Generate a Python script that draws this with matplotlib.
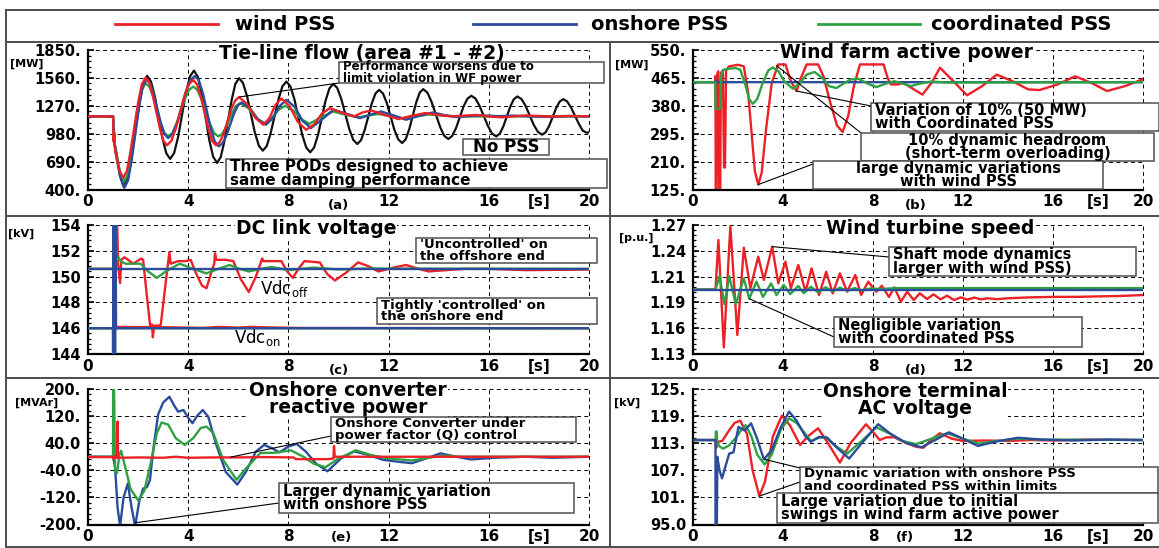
import numpy as np
import matplotlib
matplotlib.use("Agg")
import matplotlib.pyplot as plt
from matplotlib.lines import Line2D
from matplotlib.patches import Rectangle, ConnectionPatch
from matplotlib.ticker import AutoMinorLocator

plt.rcParams['font.family'] = ['DejaVu Sans']
plt.rcParams['font.weight'] = 'bold'
plt.rcParams['mathtext.default'] = 'regular'

# ---------------------------------------------------------------- data
series_names = ['wind PSS', 'onshore PSS', 'coordinated PSS']
x_ticks = [0, 4, 8, 12, 16, 20]
x_tick_labels = ['0', '4', '8', '12', '16', '20']

# (a) tie-line flow [MW]
tie_limits = (400, 1850)
tie_tick_labels = ['400.', '690.', '980.', '1270.', '1560.', '1850.']
tie_nopss = [(0, 1160), (1.0, 1160), (1.05, 900), (1.15, 760), (1.28, 540), (1.42, 430),
             (1.577, 507), (1.73, 718), (2.05, 1293), (2.203, 1504), (2.36, 1581),
             (2.513, 1523), (2.67, 1365), (2.97, 934), (3.127, 776), (3.28, 718),
             (3.438, 779), (3.60, 948), (3.91, 1407), (4.072, 1575), (4.23, 1636),
             (4.383, 1572), (4.54, 1396), (4.84, 916), (4.997, 740), (5.15, 676),
             (5.297, 735), (5.44, 896), (5.74, 1337), (5.883, 1498), (6.03, 1557),
             (6.188, 1507), (6.35, 1369), (6.66, 992), (6.822, 854), (6.98, 804),
             (7.137, 852), (7.29, 984), (7.61, 1343), (7.763, 1474), (7.92, 1522),
             (8.078, 1473), (8.24, 1338), (8.55, 971), (8.712, 836), (8.87, 787),
             (9.023, 835), (9.18, 965), (9.48, 1320), (9.637, 1450), (9.79, 1498),
             (9.95, 1456), (10.11, 1342), (10.43, 1029), (10.59, 915), (10.75, 873),
             (10.895, 911), (11.04, 1014), (11.33, 1295), (11.475, 1398), (11.62, 1436),
             (11.773, 1399), (11.93, 1298), (12.23, 1021), (12.387, 920), (12.54, 883),
             (12.68, 921), (12.82, 1023), (13.10, 1303), (13.24, 1406), (13.38, 1443),
             (13.547, 1408), (13.71, 1314), (14.05, 1055), (14.213, 960), (14.38, 925),
             (14.533, 955), (14.69, 1037), (14.99, 1262), (15.147, 1344), (15.30, 1374),
             (15.467, 1346), (15.63, 1269), (15.97, 1058), (16.133, 980), (16.30, 952),
             (16.44, 980), (16.58, 1056), (16.86, 1263), (17.0, 1339), (17.14, 1367),
             (17.305, 1340), (17.47, 1268), (17.80, 1069), (17.965, 997), (18.13, 970),
             (18.27, 995), (18.41, 1062), (18.69, 1247), (18.83, 1314), (18.97, 1339),
             (19.125, 1316), (19.28, 1254), (19.59, 1085), (19.745, 1013), (19.90, 990),
             (20.0, 995)]
tie_wind = [(0, 1160), (1.0, 1160), (1.02, 900), (1.05, 990), (1.08, 820), (1.12, 760), (1.25, 600),
            (1.40, 521), (1.55, 591), (1.69, 782), (2.00, 1303), (2.15, 1493), (2.30, 1563),
            (2.442, 1516), (2.58, 1387), (2.87, 1035), (3.008, 906), (3.15, 859), (3.325, 905),
            (3.50, 1029), (3.85, 1369), (4.025, 1493), (4.20, 1539), (4.352, 1493), (4.50, 1369),
            (4.81, 1029), (4.958, 905), (5.11, 859), (5.263, 893), (5.42, 984), (5.72, 1235),
            (5.877, 1326), (6.03, 1360), (6.35, 1288), (6.68, 1145),
            (7.00, 1073), (7.24, 1141), (7.48, 1278), (7.72, 1346), (8.05, 1265), (8.38, 1102),
            (8.71, 1021), (9.03, 1077), (9.34, 1190), (9.66, 1246), (10.15, 1195), (10.63, 1160),
            (10.95, 1200), (11.30, 1222), (11.85, 1175), (12.39, 1132), (12.90, 1165), (13.46, 1194),
            (14.0, 1175), (14.5, 1160), (15.0, 1168), (15.5, 1175), (16.0, 1160), (16.5, 1150),
            (17.0, 1160), (17.5, 1170), (18.5, 1158), (19.2, 1165), (20.0, 1160)]
tie_onshore = [(0, 1160), (1.0, 1160), (1.05, 880), (1.12, 760), (1.28, 540), (1.45, 417),
               (1.597, 493), (1.74, 699), (2.04, 1263), (2.183, 1469), (2.33, 1545), (2.475, 1504),
               (2.62, 1393), (2.91, 1088), (3.055, 976), (3.20, 935), (3.378, 978),
               (3.56, 1097), (3.91, 1420), (4.092, 1538), (4.27, 1581), (4.428, 1532), (4.59, 1398),
               (4.90, 1032), (5.062, 898), (5.22, 849), (5.373, 880),
               (5.53, 963), (5.83, 1191), (5.987, 1274), (6.14, 1305), (6.46, 1247), (6.78, 1131),
               (7.10, 1073), (7.37, 1138), (7.65, 1267), (7.92, 1332), (8.25, 1259), (8.57, 1112),
               (8.90, 1039), (9.35, 1130), (9.79, 1229), (10.3, 1190), (10.86, 1142), (11.3, 1180),
               (11.70, 1211), (12.2, 1170), (12.70, 1125), (13.2, 1165), (13.77, 1201), (14.2, 1175),
               (14.70, 1153), (15.2, 1162), (15.7, 1170), (16.4, 1162), (17.0, 1168), (17.8, 1158),
               (18.5, 1155), (19.2, 1162), (20.0, 1160)]
tie_coord = [(0, 1160), (1.0, 1160), (1.05, 880), (1.12, 780), (1.28, 580), (1.42, 476),
             (1.567, 545), (1.71, 733), (2.01, 1248), (2.153, 1436), (2.30, 1505), (2.45, 1468),
             (2.60, 1367), (2.90, 1090), (3.05, 989), (3.20, 952), (3.367, 987),
             (3.53, 1082), (3.87, 1341), (4.033, 1435), (4.20, 1470), (4.367, 1435), (4.53, 1341),
             (4.87, 1082), (5.033, 987), (5.20, 952), (5.347, 975),
             (5.49, 1039), (5.79, 1212), (5.933, 1275), (6.08, 1298), (6.40, 1246), (6.71, 1142),
             (7.03, 1090), (7.31, 1135), (7.59, 1225), (7.87, 1270), (8.20, 1220), (8.52, 1130),
             (8.84, 1083), (9.3, 1150), (9.79, 1211), (10.3, 1175), (10.8, 1150), (11.2, 1170),
             (11.6, 1185), (12.1, 1160), (12.6, 1140), (13.1, 1160), (13.6, 1180), (14.3, 1165),
             (15.0, 1160), (20.0, 1160)]

# (b) wind farm active power [MW]
wf_limits = (125, 550)
wf_tick_labels = ['125.', '210.', '295.', '380.', '465.', '550.']
wf_wind = [(0, 452), (0.99, 452), (1.0, 470), (1.01, 110), (1.05, 110), (1.07, 475), (1.12, 485),
           (1.17, 110), (1.21, 110), (1.24, 480), (1.33, 488), (1.38, 192), (1.42, 192), (1.47, 488),
           (1.6, 500), (2.0, 505), (2.26, 500), (2.45, 420), (2.6, 300), (2.75, 180), (2.9, 140),
           (3.05, 175), (3.25, 310), (3.5, 450), (3.79, 506), (4.11, 506), (4.35, 455), (4.6, 425),
           (4.8, 465), (5.05, 506), (5.56, 506), (5.8, 470), (6.1, 390), (6.4, 320), (6.65, 300),
           (6.9, 350), (7.15, 440), (7.42, 506), (8.47, 506), (8.65, 465), (8.8, 445), (9.1, 445),
           (9.35, 450), (9.7, 435), (10.2, 414), (10.6, 450), (10.98, 496), (11.5, 460), (12.18, 412),
           (12.85, 440), (13.5, 475), (14.2, 455), (14.9, 430), (15.4, 428), (16.2, 445), (16.98, 470),
           (17.7, 450), (18.4, 425), (19.2, 440), (20.0, 461)]
wf_onshore = [(0, 452), (1.0, 452), (1.03, 458), (1.08, 452), (20.0, 452)]
wf_coord = [(0, 452), (0.99, 452), (1.0, 371), (1.2, 371), (1.26, 475), (1.35, 490), (1.6, 493),
            (1.9, 495), (2.1, 490), (2.3, 450), (2.5, 400), (2.66, 386), (2.85, 400), (3.1, 450),
            (3.35, 488), (3.55, 497), (3.8, 485), (4.05, 455), (4.44, 432), (4.75, 450), (5.05, 475),
            (5.4, 483), (5.75, 465), (6.05, 440), (6.37, 434), (6.7, 448), (7.0, 460), (7.34, 463),
            (7.75, 448), (8.15, 437), (8.55, 447), (8.95, 455), (9.3, 448), (9.68, 440), (10.1, 448),
            (10.6, 454), (11.2, 451), (20.0, 452)]

# (c) DC link voltage [kV]
dc_limits = (144, 154)
dc_tick_labels = ['144', '146', '148', '150', '152', '154']
dc_off_wind = [(0, 150.6), (1.0, 150.6), (1.08, 154.5), (1.12, 151.5), (1.16, 154.5), (1.2, 151.0),
               (1.28, 149.5), (1.33, 151.3), (1.45, 151.5), (1.6, 151.3), (1.8, 151.0), (2.13, 151.4),
               (2.2, 151.3), (2.35, 148.5), (2.48, 146.2), (2.55, 146.3), (2.59, 145.3), (2.64, 146.2),
               (2.9, 146.2), (3.1, 149.5), (3.25, 151.9), (3.3, 151.0), (3.6, 151.2), (3.9, 151.2),
               (4.1, 151.3), (4.3, 150.3), (4.55, 149.3), (4.73, 149.1), (4.95, 150.5), (5.04, 151.0),
               (5.07, 151.8), (5.12, 151.3), (5.5, 151.3), (5.8, 151.2), (6.1, 149.8), (6.42, 148.8),
               (6.7, 150.0), (6.9, 151.1), (6.95, 151.4), (7.0, 151.2), (7.72, 151.2), (7.95, 150.4),
               (8.18, 149.9), (8.4, 150.6), (8.64, 151.2), (9.25, 151.1), (9.55, 150.2), (9.86, 149.7),
               (10.3, 150.3), (10.78, 151.1), (11.2, 150.8), (11.6, 150.4), (12.2, 150.7), (12.7, 150.9),
               (13.2, 150.6), (13.6, 150.4), (14.3, 150.5), (15.0, 150.6), (16.0, 150.6), (17.5, 150.5),
               (20.0, 150.55)]
dc_on_wind = [(0, 146.0), (1.0, 146.0), (1.03, 143.5), (1.06, 146.1), (3.3, 146.07), (4.6, 146.02),
              (5.2, 146.1), (6.0, 146.05), (6.5, 146.1), (7.5, 146.05), (8.5, 146.02), (20.0, 146.0)]
dc_off_onshore = [(0, 150.6), (20.0, 150.6)]
dc_on_onshore = [(0, 146.0), (1.0, 146.0), (1.0, 143.5), (1.02, 154.5), (1.04, 143.5), (1.06, 154.5),
                 (1.08, 143.5), (1.1, 154.5), (1.12, 146.0), (20.0, 146.0)]
dc_off_coord = [(0, 150.6), (1.0, 150.6), (1.1, 151.0), (1.22, 151.5), (1.3, 151.2), (1.5, 151.0),
                (2.1, 151.0), (2.4, 150.4), (2.75, 149.9), (3.1, 150.4), (3.66, 151.0), (4.2, 150.6),
                (4.73, 150.25), (5.2, 150.6), (5.65, 150.9), (6.05, 150.6), (6.42, 150.4), (6.9, 150.6),
                (7.33, 150.75), (8.0, 150.5), (9.0, 150.7), (10.0, 150.55), (11.0, 150.62), (20.0, 150.6)]
dc_on_coord = [(0, 146.0), (1.0, 146.0), (1.01, 144.3), (1.03, 146.0), (20.0, 146.0)]

# (d) wind turbine speed [p.u.]
ws_limits = (1.13, 1.27)
ws_tick_labels = ['1.13', '1.16', '1.19', '1.21', '1.24', '1.27']
ws_wind = [(0, 1.2), (1.0, 1.2), (1.13, 1.2537), (1.37, 1.1372), (1.66, 1.269), (1.97, 1.1506),
           (2.26, 1.2454), (2.55, 1.2013), (2.9, 1.2356), (3.15, 1.2103), (3.52, 1.2465), (3.79, 1.2067),
           (4.11, 1.2302), (4.35, 1.2013), (4.68, 1.2266), (5.0, 1.1976), (5.27, 1.223), (5.6, 1.194),
           (5.92, 1.2193), (6.21, 1.1958), (6.53, 1.2175), (6.85, 1.1976), (7.21, 1.2157), (7.47, 1.194),
           (7.79, 1.2085), (8.15, 1.1976), (8.39, 1.204), (8.71, 1.192), (8.95, 1.2023), (9.24, 1.1868),
           (9.52, 1.1976), (9.81, 1.1886), (10.08, 1.1958), (10.4, 1.1897), (10.69, 1.1947),
           (11.0, 1.1893), (11.29, 1.1933), (11.6, 1.1886), (11.9, 1.1915), (12.2, 1.189),
           (12.5, 1.1912), (12.8, 1.1893), (13.1, 1.1905), (13.5, 1.1895), (14.0, 1.1905),
           (15.0, 1.1915), (16.0, 1.192), (17.0, 1.192), (18.0, 1.1925), (19.0, 1.193), (20.0, 1.194)]
ws_onshore = [(0, 1.2), (20.0, 1.2)]
ws_coord = [(0, 1.2), (1.0, 1.2), (1.18, 1.2146), (1.4, 1.184), (1.61, 1.2146), (1.9, 1.184),
            (2.26, 1.212), (2.5, 1.19), (2.82, 1.2085), (3.11, 1.192), (3.47, 1.2067), (3.71, 1.194),
            (4.03, 1.205), (4.32, 1.195), (4.68, 1.2038), (4.92, 1.196), (5.24, 1.203), (5.56, 1.197),
            (5.89, 1.2025), (6.2, 1.198), (6.53, 1.202), (6.85, 1.1985), (7.18, 1.2015), (7.5, 1.199),
            (7.9, 1.2012), (8.3, 1.2005), (9.0, 1.2015), (20.0, 1.2015)]

# (e) onshore converter reactive power [MVAr]
q_limits = (-200, 200)
q_tick_labels = ['-200.', '-120.', '-40.0', '40.0', '120.', '200.']
q_wind = [(0, -1), (1.0, -1), (1.02, -6), (1.05, 3), (1.1, -3), (1.16, -2), (1.18, 104), (1.2, -3),
          (2.0, -2), (3.0, -3), (3.5, 0), (4.0, -3), (5.0, -2), (6.0, -2), (7.0, -1), (8.2, -2),
          (8.3, -7), (9.6, -7), (9.8, -5), (9.82, 32), (9.85, 0), (11.0, 0), (20.0, 0)]
q_onshore = [(0, 0), (1.0, 0), (1.08, -30), (1.18, -150), (1.28, -205), (1.42, -120), (1.59, -79),
             (1.74, -150), (1.88, -205), (2.05, -130), (2.2, -94), (2.35, -90), (2.47, -70), (2.62, 30),
             (2.8, 125), (3.0, 160), (3.25, 177), (3.45, 150), (3.6, 133), (3.81, 138), (4.0, 115),
             (4.17, 99), (4.35, 120), (4.58, 138), (4.8, 118), (5.1, 40), (5.5, -45), (5.96, -82),
             (6.3, -45), (6.7, 15), (7.03, 35), (7.35, 25), (7.64, 13), (8.0, 30), (8.33, 38),
             (8.7, 15), (9.1, -20), (9.56, -43), (10.1, -5), (10.63, 16), (11.2, 5), (11.78, -9),
             (12.4, -15), (12.93, -19), (13.5, -5), (14.07, 10), (14.7, 0), (15.3, -8), (16.2, -3),
             (17.5, 0), (18.5, -3), (20.0, 0)]
q_coord = [(0, 0), (1.0, 0), (1.005, 205), (1.04, 205), (1.08, -40), (1.16, -48), (1.25, 5),
           (1.32, 18), (1.45, -20), (1.7, -95), (2.0, -129), (2.25, -100), (2.5, -20), (2.75, 70),
           (2.94, 101), (3.2, 95), (3.5, 55), (3.86, 35), (4.2, 55), (4.5, 85), (4.73, 89), (5.0, 70),
           (5.4, -10), (5.93, -68), (6.3, -35), (6.88, 11), (7.5, 12), (8.1, 19), (8.6, 0), (9.0, -20),
           (9.48, -31), (10.0, -5), (10.7, 19), (11.3, 5), (12.0, -5), (12.93, -11), (13.6, -3),
           (14.2, 3), (15.0, 0), (20.0, 0)]

# (f) onshore terminal AC voltage [kV]
vac_limits = (95, 125)
vac_tick_labels = ['95.0', '101.', '107.', '113.', '119.', '125.']
vac_wind = [(0, 113.7), (1.0, 113.7), (1.03, 112.0), (1.1, 113.3), (1.3, 113.5), (1.6, 115.8),
            (1.85, 117.5), (2.1, 118.0), (2.4, 115.0), (2.65, 107.0), (2.95, 101.3), (3.2, 104.5),
            (3.55, 114.5), (3.95, 119.1), (4.3, 117.0), (4.76, 112.6), (5.1, 114.5), (5.56, 116.3),
            (6.0, 113.0), (6.53, 108.7), (7.0, 113.0), (7.69, 117.2), (8.0, 115.5), (8.3, 113.7),
            (8.6, 114.3), (8.95, 114.3), (9.4, 113.2), (9.92, 112.2), (10.24, 112.0), (10.6, 113.8),
            (10.97, 115.2), (11.5, 114.0), (12.0, 113.5), (13.0, 113.6), (14.0, 113.5), (15.0, 113.7),
            (16.0, 113.6), (17.5, 113.8), (20.0, 113.7)]
vac_onshore = [(0, 113.7), (1.0, 113.7), (1.0, 94.0), (1.06, 94.0), (1.08, 110.0), (1.18, 107.0),
               (1.29, 105.2), (1.45, 108.0), (1.61, 110.7), (1.8, 111.0), (2.02, 116.6), (2.3, 115.8),
               (2.58, 117.4), (2.85, 114.0), (3.15, 109.4), (3.5, 111.5), (3.9, 116.5), (4.27, 120.0),
               (4.6, 118.0), (5.0, 114.5), (5.24, 113.3), (5.6, 114.4), (5.97, 114.2), (6.4, 112.0),
               (6.94, 109.6), (7.5, 113.0), (8.23, 117.2), (8.8, 115.0), (9.5, 113.0), (10.16, 112.1),
               (10.8, 113.8), (11.37, 115.4), (12.0, 114.0), (12.66, 112.4), (13.5, 113.4),
               (14.44, 114.2), (15.5, 113.8), (17.0, 113.6), (18.5, 113.8), (20.0, 113.7)]
vac_coord = [(0, 113.7), (1.0, 113.7), (1.02, 115.6), (1.05, 115.6), (1.08, 113.0), (1.2, 112.2),
             (1.34, 111.8), (1.6, 112.5), (1.94, 114.4), (2.15, 116.0), (2.34, 117.0), (2.6, 114.5),
             (2.85, 110.5), (3.18, 108.3), (3.5, 110.5), (3.9, 116.0), (4.27, 118.5), (4.6, 117.5),
             (5.0, 115.0), (5.24, 113.5), (5.6, 114.2), (5.89, 114.4), (6.3, 112.5), (6.85, 110.7),
             (7.5, 113.5), (8.15, 116.5), (8.8, 115.0), (9.3, 113.5), (9.92, 112.8), (10.6, 114.0),
             (11.29, 115.2), (12.0, 114.0), (12.7, 112.9), (13.5, 113.5), (14.4, 114.0),
             (15.5, 113.8), (20.0, 113.7)]

# ---------------------------------------------------------------- drawing
RED, BLUE, GREEN, BLACK = '#ec2027', '#2b4c9b', '#2ea243', '#111111'
FRAME = '#4d4d4d'
W, H = 1159, 548
fig = plt.figure(figsize=(W / 100, H / 100), dpi=100)


def fx(x):
    return x / W


def fy(y):
    return 1 - y / H


def px_axes(l, t, r, b):
    return fig.add_axes([fx(l), fy(b), (r - l) / W, (b - t) / H])


def curve(ax, pairs, color, z, lw=1.7):
    arr = np.asarray(pairs, dtype=float)
    ax.plot(arr[:, 0], arr[:, 1], color=color, lw=lw, zorder=z, solid_joinstyle='round')


def style_axes(ax, limits, labels, letter, letter_t, letter_off=-7):
    lo, hi = limits
    ax.set_xlim(0, 20)
    ax.set_ylim(lo, hi)
    ax.set_xticks(x_ticks)
    ax.set_xticklabels(x_tick_labels)
    ax.set_yticks(np.linspace(lo, hi, 6))
    ax.set_yticklabels(labels)
    ax.yaxis.set_minor_locator(AutoMinorLocator(5))
    ax.tick_params(axis='x', which='both', length=0, pad=3.5, labelsize=11)
    ax.tick_params(axis='y', which='major', direction='in', length=4, width=1.2, pad=5, labelsize=10.5)
    ax.tick_params(axis='y', which='minor', direction='in', length=2.5, width=0.9)
    for side in ('top', 'right'):
        ax.spines[side].set_visible(False)
    for side in ('left', 'bottom'):
        ax.spines[side].set_linewidth(1.6)
    ax.grid(True, which='major', color='black', lw=0.7, ls=(0, (4, 3.5)))
    for gl in ax.get_xgridlines() + ax.get_ygridlines():
        gl.set_clip_on(False)
    ax.set_axisbelow(True)
    ax.annotate('[s]', xy=(18, 0), xycoords=('data', 'axes fraction'), xytext=(0, -3.5),
                textcoords='offset points', ha='center', va='top', fontsize=11)
    ax.annotate(letter, xy=(letter_t, 0), xycoords=('data', 'axes fraction'), xytext=(0, letter_off),
                textcoords='offset points', ha='center', va='top', fontsize=9.5)


def title(x, y, text):
    fig.text(fx(x), fy(y), text, ha='center', va='center', fontsize=13.5, linespacing=0.85,
             zorder=3, bbox=dict(fc='white', ec='none', pad=0.5))


def unit(x, y, text):
    fig.text(fx(x), fy(y), text, ha='left', va='center', fontsize=8)


def note_box(l, t, r, b, text, size, ha='left'):
    fig.add_artist(Rectangle((fx(l), fy(b)), (r - l) / W, (b - t) / H, transform=fig.transFigure,
                             facecolor='white', edgecolor='#505050', lw=1.1, zorder=5))
    x = fx(l + 4) if ha == 'left' else fx((l + r) / 2)
    fig.text(x, fy((t + b) / 2), text, ha=ha, va='center', multialignment=ha, fontsize=size,
             linespacing=0.9, zorder=6)


def leader(ax, xy, x, y):
    fig.add_artist(ConnectionPatch(xyA=xy, coordsA=ax.transData, xyB=(fx(x), fy(y)),
                                   coordsB=fig.transFigure, color='black', lw=0.8, zorder=4))


def frame_line(x0, y0, x1, y1):
    fig.add_artist(Line2D([fx(x0), fx(x1)], [fy(y0), fy(y1)], transform=fig.transFigure,
                          color=FRAME, lw=1.4))


# outer frame and panel separators
frame_line(6, 10, 1159, 10)
frame_line(6, 42, 1159, 42)
frame_line(6, 10, 6, 548)
frame_line(6, 216, 1159, 216)
frame_line(6, 378, 1159, 378)
frame_line(610, 42, 610, 548)
frame_line(6, 547, 1159, 547)

# legend row
for color, x0, x1, xt, name in [(RED, 115, 218, 235, series_names[0]),
                                (BLUE, 473, 576, 591, series_names[1]),
                                (GREEN, 818, 920, 931, series_names[2])]:
    fig.add_artist(Line2D([fx(x0), fx(x1)], [fy(24), fy(24)], transform=fig.transFigure,
                          color=color, lw=2.0))
    fig.text(fx(xt), fy(25), name, ha='left', va='center', fontsize=14)

ax_a = px_axes(88, 50, 589, 189.5)
ax_b = px_axes(693, 50, 1143, 189.5)
ax_c = px_axes(88, 225, 589, 354)
ax_d = px_axes(693, 225, 1143, 354)
ax_e = px_axes(88, 389, 589, 524.5)
ax_f = px_axes(693, 389, 1143, 524.5)

# (a)
style_axes(ax_a, tie_limits, tie_tick_labels, '(a)', 10.0)
curve(ax_a, tie_nopss, BLACK, 1, lw=1.6)
curve(ax_a, tie_coord, GREEN, 2)
curve(ax_a, tie_onshore, BLUE, 3)
curve(ax_a, tie_wind, RED, 4)
title(362, 53, 'Tie-line flow (area #1 - #2)')
unit(10, 64, '[MW]')
note_box(339, 62, 604, 83, 'Performance worsens due to\nlimit violation in WF power', 8.5)
leader(ax_a, (6.05, 1362), 339, 83)
note_box(463, 139, 549, 155, 'No PSS', 12, ha='center')
note_box(226, 159, 607, 188, 'Three PODs designed to achieve\nsame damping performance', 11)

# (b)
style_axes(ax_b, wf_limits, wf_tick_labels, '(b)', 9.9)
curve(ax_b, wf_wind, RED, 2)
curve(ax_b, wf_onshore, BLUE, 3)
curve(ax_b, wf_coord, GREEN, 4)
title(907, 53, 'Wind farm active power')
unit(615, 65, '[MW]')
note_box(871, 103, 1159, 131, 'Variation of 10% (50 MW)\nwith Coordinated PSS', 10.5)
leader(ax_b, (4.6, 425), 871, 106)
note_box(861, 133, 1154, 161, '10% dynamic headroom\n(short-term overloading)', 10.5, ha='center')
leader(ax_b, (3.7, 503), 861, 133)
note_box(813, 161, 1103, 189, 'large dynamic variations\nwith wind PSS', 10.5, ha='center')
leader(ax_b, (2.9, 140), 813, 164)

# (c)
style_axes(ax_c, dc_limits, dc_tick_labels, '(c)', 10.0)
curve(ax_c, dc_on_wind, RED, 2)
curve(ax_c, dc_off_wind, RED, 2)
curve(ax_c, dc_on_coord, GREEN, 3)
curve(ax_c, dc_off_coord, GREEN, 3)
curve(ax_c, dc_off_onshore, BLUE, 4)
curve(ax_c, dc_on_onshore, BLUE, 4)
title(316, 229, 'DC link voltage')
unit(8, 234, '[kV]')
ax_c.text(6.85, 149.1, r'Vdc$_{\mathregular{off}}$', fontsize=12, fontweight='normal',
          ha='left', va='center', zorder=6)
ax_c.text(5.83, 145.3, r'Vdc$_{\mathregular{on}}$', fontsize=12, fontweight='normal',
          ha='left', va='center', zorder=6)
note_box(416, 238, 597, 263, "'Uncontrolled' on\nthe offshore end", 9.5)
note_box(377, 298, 597, 324, "Tightly 'controlled' on\nthe onshore end", 9.5)

# (d)
style_axes(ax_d, ws_limits, ws_tick_labels, '(d)', 9.9)
curve(ax_d, ws_wind, RED, 2)
curve(ax_d, ws_coord, GREEN, 3)
curve(ax_d, ws_onshore, BLUE, 4)
title(930, 229, 'Wind turbine speed')
unit(619, 238, '[p.u.]')
note_box(889, 247, 1136, 276, 'Shaft mode dynamics\nlarger with wind PSS)', 10.5)
leader(ax_d, (3.52, 1.2465), 889, 257)
note_box(834, 317, 1082, 347, 'Negligible variation\nwith coordinated PSS', 10.5)
leader(ax_d, (2.5, 1.19), 834, 337)

# (e)
style_axes(ax_e, q_limits, q_tick_labels, '(e)', 10.1, letter_off=-5)
curve(ax_e, q_onshore, BLUE, 2)
curve(ax_e, q_coord, GREEN, 3)
curve(ax_e, q_wind, RED, 4)
title(348, 399, 'Onshore converter\nreactive power')
unit(15, 403, '[MVAr]')
note_box(331, 417, 576, 442, 'Onshore Converter under\npower factor (Q) control', 9.5)
leader(ax_e, (5.7, -1), 331, 436)
note_box(279, 483, 574, 513, 'Larger dynamic variation\nwith onshore PSS', 10.5)
leader(ax_e, (1.88, -195), 279, 503)

# (f)
style_axes(ax_f, vac_limits, vac_tick_labels, '(f)', 9.4, letter_off=-5)
curve(ax_f, vac_wind, RED, 2)
curve(ax_f, vac_coord, GREEN, 3)
curve(ax_f, vac_onshore, BLUE, 4)
title(915, 400, 'Onshore terminal\nAC voltage')
unit(614, 403, '[kV]')
note_box(800, 467, 1158, 493, 'Dynamic variation with onshore PSS\nand coordinated PSS within limits', 9.5)
leader(ax_f, (3.2, 109.4), 800, 468)
note_box(777, 493, 1158, 523, 'Large variation due to initial\nswings in wind farm active power', 10.5)
leader(ax_f, (2.95, 101.3), 800, 482)

fig.savefig('out.png', dpi=100)
